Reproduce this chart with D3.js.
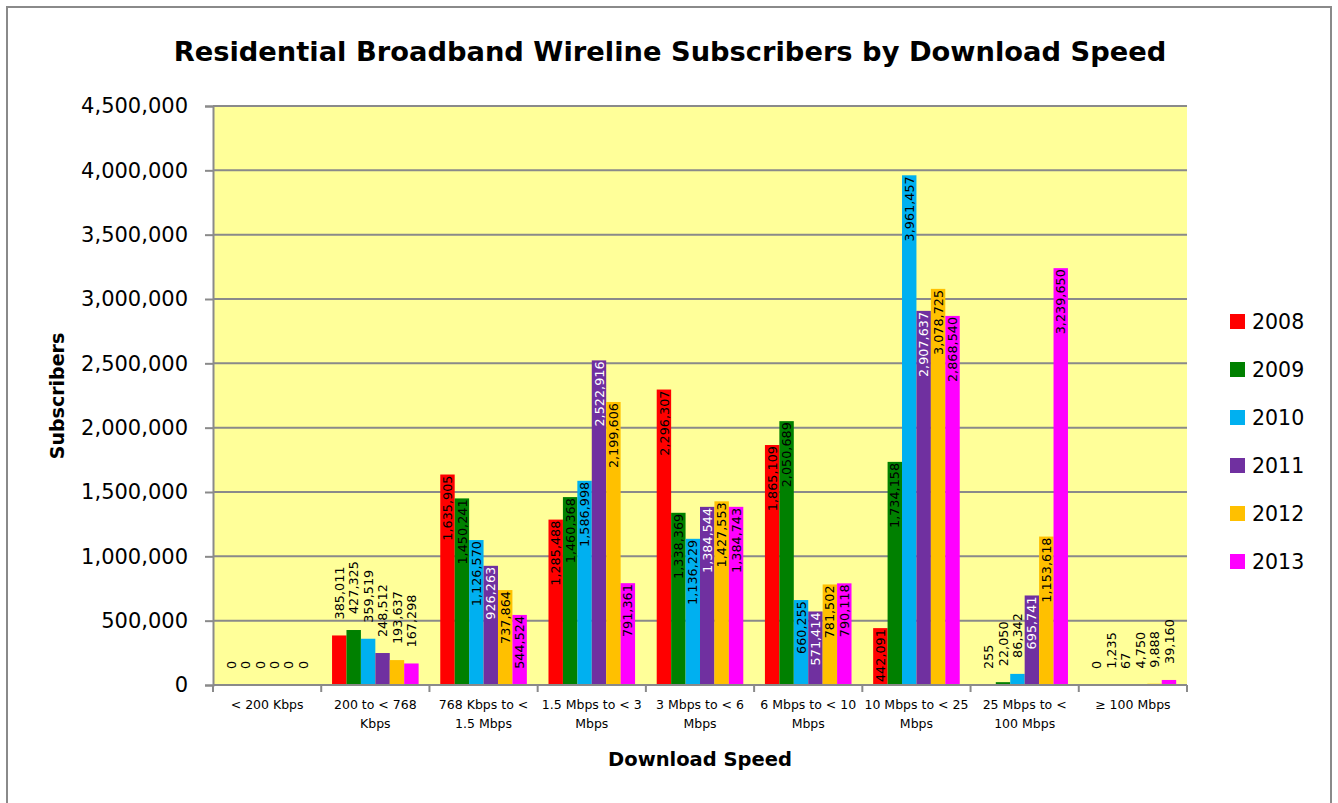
<!DOCTYPE html>
<meta charset="utf-8">
<style>
  body { margin: 0; background: #fff; }
  text { font-family: "DejaVu Sans", Verdana, sans-serif; }
</style>
<body>
<svg width="1338" height="803"></svg>

<script src="https://d3js.org/d3.v7.min.js"></script>

<script>
  var categories = ['< 200 Kbps', '200 to < 768 Kbps', '768 Kbps to < 1.5 Mbps', '1.5 Mbps to < 3 Mbps',
    '3 Mbps to < 6 Mbps', '6 Mbps to < 10 Mbps', '10 Mbps to < 25 Mbps', '25 Mbps to < 100 Mbps', '≥ 100 Mbps']
  var categoryLines = [['< 200 Kbps'], ['200 to < 768', 'Kbps'], ['768 Kbps to <', '1.5 Mbps'], ['1.5 Mbps to < 3', 'Mbps'],
    ['3 Mbps to < 6', 'Mbps'], ['6 Mbps to < 10', 'Mbps'], ['10 Mbps to < 25', 'Mbps'], ['25 Mbps to <', '100 Mbps'], ['≥ 100 Mbps']]
  var years = ['2008', '2009', '2010', '2011', '2012', '2013']
  var colors = ['#FF0000', '#008000', '#00B0F0', '#7030A0', '#FFC000', '#FF00FF']

  // one array per year, in category order
  var s2008 = [0, 385011, 1635905, 1285488, 2296307, 1865109, 442091, 255, 0]
  var s2009 = [0, 427325, 1450241, 1460368, 1338369, 2050689, 1734158, 22050, 1235]
  var s2010 = [0, 359519, 1126570, 1586998, 1136229, 660255, 3961457, 86342, 67]
  var s2011 = [0, 248512, 926263, 2522916, 1384544, 571414, 2907637, 695741, 4750]
  var s2012 = [0, 193637, 737864, 2199606, 1427553, 781502, 3078725, 1153618, 9888]
  var s2013 = [0, 167298, 544524, 791361, 1384743, 790118, 2868540, 3239650, 39160]
  var series = [s2008, s2009, s2010, s2011, s2012, s2013]

  var yTicks = [0, 500000, 1000000, 1500000, 2000000, 2500000, 3000000, 3500000, 4000000, 4500000]

  var svg = d3.select('svg')
  var grid = '#8a8a8a'
  var fmt = d3.format(',')

  // chart border
  svg.append('rect')
    .attr('x', 7).attr('y', 7)
    .attr('width', 1324).attr('height', 820)
    .attr('fill', '#fff')
    .attr('stroke', grid)
    .attr('stroke-width', 2)

  var x0 = d3.scaleBand().domain(categories).range([213, 1187])
  var x1 = d3.scaleBand().domain(years).range([0, x0.bandwidth()]).paddingOuter(0.75)
  var y = d3.scaleLinear().domain([0, 4500000]).range([685, 106])

  svg.append('rect')
    .attr('x', 213).attr('y', y(4500000))
    .attr('width', 1187 - 213).attr('height', y(0) - y(4500000))
    .attr('fill', '#FFFF99')

  // gridlines
  svg.append('g')
    .selectAll('line')
    .data(yTicks.slice(1))
    .enter().append('line')
    .attr('x1', 213).attr('x2', 1187)
    .attr('y1', function(d) { return y(d) })
    .attr('y2', function(d) { return y(d) })
    .attr('stroke', grid)
    .attr('stroke-width', 2)

  // y axis
  var yAxis = svg.append('g')
    .attr('transform', 'translate(213,0)')
    .call(d3.axisLeft(y).tickValues(yTicks).tickFormat(fmt).tickSize(8).tickPadding(17))
  yAxis.select('.domain').attr('stroke', grid).attr('stroke-width', 2)
  yAxis.selectAll('.tick line').attr('stroke', grid).attr('stroke-width', 2)
  yAxis.selectAll('.tick text')
    .attr('fill', '#000')
    .style('font-size', '21px')
    .style('font-family', '"DejaVu Sans", Verdana, sans-serif')

  // bars
  var rows = []
  categories.forEach(function(c, i) {
    years.forEach(function(yr, j) {
      rows.push({ cat: c, year: yr, value: series[j][i], color: colors[j] })
    })
  })

  svg.append('g')
    .selectAll('rect')
    .data(rows)
    .enter().append('rect')
    .attr('x', function(d) { return x0(d.cat) + x1(d.year) })
    .attr('y', function(d) { return y(d.value) })
    .attr('width', x1.bandwidth())
    .attr('height', function(d) { return y(0) - y(d.value) })
    .attr('fill', function(d) { return d.color })

  // x axis
  var xAxis = svg.append('g')
    .attr('transform', 'translate(0,685)')
  xAxis.append('line')
    .attr('x1', 213).attr('x2', 1187)
    .attr('stroke', grid).attr('stroke-width', 2)
  xAxis.selectAll('.tk')
    .data(categories.concat(['end']))
    .enter().append('line')
    .attr('class', 'tk')
    .attr('x1', function(d, i) { return 213 + i * x0.step() })
    .attr('x2', function(d, i) { return 213 + i * x0.step() })
    .attr('y1', 0).attr('y2', 7)
    .attr('stroke', grid).attr('stroke-width', 2)

  xAxis.selectAll('.cat')
    .data(categories)
    .enter().append('text')
    .attr('class', 'cat')
    .attr('text-anchor', 'middle')
    .attr('font-size', 12.5)
    .attr('transform', function(d) { return 'translate(' + (x0(d) + x0.bandwidth() / 2) + ',24)' })
    .each(function(d, i) {
      var t = d3.select(this)
      categoryLines[i].forEach(function(line, k) {
        t.append('tspan').attr('x', 0).attr('y', k * 19).text(line)
      })
    })

  // data labels, inside end when the bar is tall enough, else above it
  svg.append('g')
    .selectAll('text')
    .data(rows)
    .enter().append('text')
    .attr('font-size', 12.8)
    .attr('dy', '0.36em')
    .text(function(d) { return fmt(d.value) })
    .each(function(d) {
      var cx = x0(d.cat) + x1(d.year) + x1.bandwidth() / 2
      var h = y(0) - y(d.value)
      var t = d3.select(this)
      if (h > 56) {
        t.attr('text-anchor', 'end')
          .attr('transform', 'translate(' + cx + ',' + (y(d.value) + 1) + ') rotate(-90)')
          .attr('fill', d.year === '2011' ? '#fff' : '#000')
      } else {
        t.attr('text-anchor', 'start')
          .attr('transform', 'translate(' + cx + ',' + (y(d.value) - 16) + ') rotate(-90)')
          .attr('fill', '#000')
      }
    })

  // titles
  svg.append('text')
    .attr('x', 670).attr('y', 61)
    .attr('text-anchor', 'middle')
    .attr('font-size', 27.3)
    .attr('font-weight', 'bold')
    .text('Residential Broadband Wireline Subscribers by Download Speed')

  svg.append('text')
    .attr('transform', 'translate(64,396) rotate(-90)')
    .attr('text-anchor', 'middle')
    .attr('font-size', 19)
    .attr('font-weight', 'bold')
    .text('Subscribers')

  svg.append('text')
    .attr('x', 700).attr('y', 766)
    .attr('text-anchor', 'middle')
    .attr('font-size', 19.5)
    .attr('font-weight', 'bold')
    .text('Download Speed')

  // legend
  var legend = svg.append('g')
    .selectAll('g')
    .data(years)
    .enter().append('g')
    .attr('transform', function(d, i) { return 'translate(1230,' + (314 + i * 48) + ')' })
  legend.append('rect')
    .attr('width', 15).attr('height', 15)
    .attr('fill', function(d, i) { return colors[i] })
  legend.append('text')
    .attr('x', 22).attr('y', 15)
    .attr('font-size', 20.5)
    .text(function(d) { return d })
</script>
